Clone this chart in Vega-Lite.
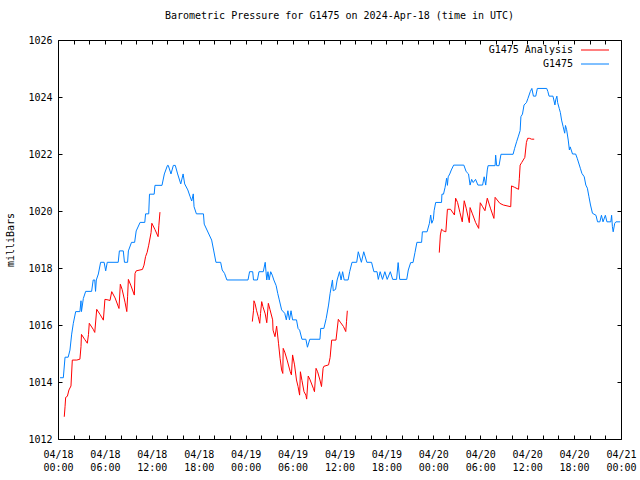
{
  "$schema": "https://vega.github.io/schema/vega-lite/v6.json",
  "width": 563,
  "height": 399,
  "autosize": "none",
  "padding": {"left": 58, "top": 40, "right": 19, "bottom": 41},
  "background": "white",
  "title": {
    "text": "Barometric Pressure for G1475 on 2024-Apr-18 (time in UTC)",
    "font": "DejaVu Sans Mono",
    "fontSize": 10,
    "fontWeight": "normal",
    "color": "black",
    "offset": 14,
    "anchor": "middle",
    "frame": "group"
  },
  "config": {
    "view": {"stroke": "black", "strokeWidth": 1},
    "axis": {
      "labelFont": "DejaVu Sans Mono",
      "labelFontSize": 10,
      "labelColor": "black",
      "titleFont": "DejaVu Sans Mono",
      "titleFontSize": 10,
      "titleFontWeight": "normal",
      "titleColor": "black",
      "tickColor": "black",
      "tickWidth": 1,
      "grid": false,
      "domain": false
    },
    "legend": {
      "labelFont": "DejaVu Sans Mono",
      "labelFontSize": 10,
      "labelColor": "black"
    }
  },
  "datasets": {
    "pressure": [
      {"series":"G1475","seg":0,"hour":0.26,"mbar":1014.15},
      {"series":"G1475","seg":0,"hour":0.68,"mbar":1014.15},
      {"series":"G1475","seg":0,"hour":0.9,"mbar":1014.87},
      {"series":"G1475","seg":0,"hour":1.3,"mbar":1014.87},
      {"series":"G1475","seg":0,"hour":1.53,"mbar":1015.12},
      {"series":"G1475","seg":0,"hour":1.75,"mbar":1015.68},
      {"series":"G1475","seg":0,"hour":1.96,"mbar":1016.06},
      {"series":"G1475","seg":0,"hour":2.26,"mbar":1016.47},
      {"series":"G1475","seg":0,"hour":2.8,"mbar":1016.47},
      {"series":"G1475","seg":0,"hour":2.94,"mbar":1016.85},
      {"series":"G1475","seg":0,"hour":3.0,"mbar":1016.47},
      {"series":"G1475","seg":0,"hour":3.24,"mbar":1016.93},
      {"series":"G1475","seg":0,"hour":3.54,"mbar":1017.18},
      {"series":"G1475","seg":0,"hour":4.3,"mbar":1017.18},
      {"series":"G1475","seg":0,"hour":4.5,"mbar":1017.58},
      {"series":"G1475","seg":0,"hour":4.7,"mbar":1017.58},
      {"series":"G1475","seg":0,"hour":4.8,"mbar":1017.18},
      {"series":"G1475","seg":0,"hour":4.9,"mbar":1017.58},
      {"series":"G1475","seg":0,"hour":5.16,"mbar":1017.79},
      {"series":"G1475","seg":0,"hour":5.45,"mbar":1018.2},
      {"series":"G1475","seg":0,"hour":5.9,"mbar":1018.2},
      {"series":"G1475","seg":0,"hour":6.1,"mbar":1017.9},
      {"series":"G1475","seg":0,"hour":6.3,"mbar":1018.2},
      {"series":"G1475","seg":0,"hour":7.7,"mbar":1018.2},
      {"series":"G1475","seg":0,"hour":7.85,"mbar":1018.6},
      {"series":"G1475","seg":0,"hour":8.35,"mbar":1018.6},
      {"series":"G1475","seg":0,"hour":8.5,"mbar":1018.2},
      {"series":"G1475","seg":0,"hour":8.9,"mbar":1018.2},
      {"series":"G1475","seg":0,"hour":9.0,"mbar":1018.6},
      {"series":"G1475","seg":0,"hour":9.4,"mbar":1018.9},
      {"series":"G1475","seg":0,"hour":9.8,"mbar":1018.9},
      {"series":"G1475","seg":0,"hour":10.0,"mbar":1019.3},
      {"series":"G1475","seg":0,"hour":10.5,"mbar":1019.6},
      {"series":"G1475","seg":0,"hour":11.1,"mbar":1019.6},
      {"series":"G1475","seg":0,"hour":11.2,"mbar":1019.9},
      {"series":"G1475","seg":0,"hour":11.6,"mbar":1019.9},
      {"series":"G1475","seg":0,"hour":11.7,"mbar":1020.59},
      {"series":"G1475","seg":0,"hour":12.3,"mbar":1020.59},
      {"series":"G1475","seg":0,"hour":12.4,"mbar":1020.9},
      {"series":"G1475","seg":0,"hour":13.3,"mbar":1020.9},
      {"series":"G1475","seg":0,"hour":13.6,"mbar":1021.3},
      {"series":"G1475","seg":0,"hour":14.0,"mbar":1021.6},
      {"series":"G1475","seg":0,"hour":14.1,"mbar":1021.6},
      {"series":"G1475","seg":0,"hour":14.45,"mbar":1021.3},
      {"series":"G1475","seg":0,"hour":14.75,"mbar":1021.6},
      {"series":"G1475","seg":0,"hour":15.0,"mbar":1021.6},
      {"series":"G1475","seg":0,"hour":15.3,"mbar":1021.3},
      {"series":"G1475","seg":0,"hour":15.7,"mbar":1020.95},
      {"series":"G1475","seg":0,"hour":16.0,"mbar":1021.3},
      {"series":"G1475","seg":0,"hour":16.2,"mbar":1020.95},
      {"series":"G1475","seg":0,"hour":16.6,"mbar":1020.74},
      {"series":"G1475","seg":0,"hour":16.9,"mbar":1020.5},
      {"series":"G1475","seg":0,"hour":17.1,"mbar":1020.35},
      {"series":"G1475","seg":0,"hour":17.3,"mbar":1020.6},
      {"series":"G1475","seg":0,"hour":17.4,"mbar":1020.15},
      {"series":"G1475","seg":0,"hour":17.7,"mbar":1019.9},
      {"series":"G1475","seg":0,"hour":18.6,"mbar":1019.9},
      {"series":"G1475","seg":0,"hour":18.7,"mbar":1019.54},
      {"series":"G1475","seg":0,"hour":19.65,"mbar":1018.98},
      {"series":"G1475","seg":0,"hour":19.9,"mbar":1018.63},
      {"series":"G1475","seg":0,"hour":20.2,"mbar":1018.2},
      {"series":"G1475","seg":0,"hour":20.8,"mbar":1018.2},
      {"series":"G1475","seg":0,"hour":21.0,"mbar":1017.93},
      {"series":"G1475","seg":0,"hour":21.3,"mbar":1017.81},
      {"series":"G1475","seg":0,"hour":21.6,"mbar":1017.58},
      {"series":"G1475","seg":0,"hour":24.3,"mbar":1017.58},
      {"series":"G1475","seg":0,"hour":24.5,"mbar":1017.87},
      {"series":"G1475","seg":0,"hour":24.9,"mbar":1017.87},
      {"series":"G1475","seg":0,"hour":25.0,"mbar":1017.58},
      {"series":"G1475","seg":0,"hour":25.5,"mbar":1017.58},
      {"series":"G1475","seg":0,"hour":25.7,"mbar":1017.87},
      {"series":"G1475","seg":0,"hour":26.25,"mbar":1017.87},
      {"series":"G1475","seg":0,"hour":26.5,"mbar":1018.2},
      {"series":"G1475","seg":0,"hour":26.6,"mbar":1017.87},
      {"series":"G1475","seg":0,"hour":26.7,"mbar":1017.58},
      {"series":"G1475","seg":0,"hour":26.85,"mbar":1017.87},
      {"series":"G1475","seg":0,"hour":27.0,"mbar":1017.58},
      {"series":"G1475","seg":0,"hour":27.2,"mbar":1017.87},
      {"series":"G1475","seg":0,"hour":27.4,"mbar":1017.75},
      {"series":"G1475","seg":0,"hour":27.6,"mbar":1017.58},
      {"series":"G1475","seg":0,"hour":27.9,"mbar":1017.38},
      {"series":"G1475","seg":0,"hour":28.1,"mbar":1017.11},
      {"series":"G1475","seg":0,"hour":28.3,"mbar":1016.88},
      {"series":"G1475","seg":0,"hour":28.6,"mbar":1016.53},
      {"series":"G1475","seg":0,"hour":29.0,"mbar":1016.41},
      {"series":"G1475","seg":0,"hour":29.2,"mbar":1016.18},
      {"series":"G1475","seg":0,"hour":29.4,"mbar":1016.5},
      {"series":"G1475","seg":0,"hour":29.6,"mbar":1016.18},
      {"series":"G1475","seg":0,"hour":29.8,"mbar":1016.5},
      {"series":"G1475","seg":0,"hour":30.0,"mbar":1016.18},
      {"series":"G1475","seg":0,"hour":30.5,"mbar":1016.18},
      {"series":"G1475","seg":0,"hour":30.7,"mbar":1015.88},
      {"series":"G1475","seg":0,"hour":30.9,"mbar":1015.82},
      {"series":"G1475","seg":0,"hour":31.2,"mbar":1015.5},
      {"series":"G1475","seg":0,"hour":31.7,"mbar":1015.5},
      {"series":"G1475","seg":0,"hour":31.9,"mbar":1015.22},
      {"series":"G1475","seg":0,"hour":32.2,"mbar":1015.5},
      {"series":"G1475","seg":0,"hour":33.5,"mbar":1015.5},
      {"series":"G1475","seg":0,"hour":33.6,"mbar":1015.88},
      {"series":"G1475","seg":0,"hour":34.0,"mbar":1015.88},
      {"series":"G1475","seg":0,"hour":34.3,"mbar":1016.23},
      {"series":"G1475","seg":0,"hour":34.6,"mbar":1016.7},
      {"series":"G1475","seg":0,"hour":34.8,"mbar":1017.11},
      {"series":"G1475","seg":0,"hour":35.1,"mbar":1017.58},
      {"series":"G1475","seg":0,"hour":35.2,"mbar":1017.2},
      {"series":"G1475","seg":0,"hour":35.5,"mbar":1017.25},
      {"series":"G1475","seg":0,"hour":35.7,"mbar":1017.58},
      {"series":"G1475","seg":0,"hour":36.0,"mbar":1017.87},
      {"series":"G1475","seg":0,"hour":36.2,"mbar":1017.58},
      {"series":"G1475","seg":0,"hour":36.4,"mbar":1017.87},
      {"series":"G1475","seg":0,"hour":36.6,"mbar":1017.58},
      {"series":"G1475","seg":0,"hour":37.1,"mbar":1017.58},
      {"series":"G1475","seg":0,"hour":37.3,"mbar":1017.87},
      {"series":"G1475","seg":0,"hour":37.6,"mbar":1018.2},
      {"series":"G1475","seg":0,"hour":38.2,"mbar":1018.2},
      {"series":"G1475","seg":0,"hour":38.4,"mbar":1018.57},
      {"series":"G1475","seg":0,"hour":38.8,"mbar":1018.2},
      {"series":"G1475","seg":0,"hour":39.1,"mbar":1018.57},
      {"series":"G1475","seg":0,"hour":39.5,"mbar":1018.2},
      {"series":"G1475","seg":0,"hour":40.1,"mbar":1018.2},
      {"series":"G1475","seg":0,"hour":40.4,"mbar":1017.87},
      {"series":"G1475","seg":0,"hour":40.8,"mbar":1017.87},
      {"series":"G1475","seg":0,"hour":40.96,"mbar":1017.6},
      {"series":"G1475","seg":0,"hour":41.2,"mbar":1017.87},
      {"series":"G1475","seg":0,"hour":41.5,"mbar":1017.6},
      {"series":"G1475","seg":0,"hour":41.8,"mbar":1017.87},
      {"series":"G1475","seg":0,"hour":42.1,"mbar":1017.6},
      {"series":"G1475","seg":0,"hour":42.5,"mbar":1017.87},
      {"series":"G1475","seg":0,"hour":42.8,"mbar":1017.6},
      {"series":"G1475","seg":0,"hour":43.3,"mbar":1017.6},
      {"series":"G1475","seg":0,"hour":43.5,"mbar":1018.19},
      {"series":"G1475","seg":0,"hour":43.7,"mbar":1017.6},
      {"series":"G1475","seg":0,"hour":44.6,"mbar":1017.6},
      {"series":"G1475","seg":0,"hour":44.8,"mbar":1017.93},
      {"series":"G1475","seg":0,"hour":45.1,"mbar":1018.19},
      {"series":"G1475","seg":0,"hour":45.4,"mbar":1018.19},
      {"series":"G1475","seg":0,"hour":45.65,"mbar":1018.54},
      {"series":"G1475","seg":0,"hour":45.9,"mbar":1018.9},
      {"series":"G1475","seg":0,"hour":46.5,"mbar":1018.9},
      {"series":"G1475","seg":0,"hour":46.6,"mbar":1019.27},
      {"series":"G1475","seg":0,"hour":47.2,"mbar":1019.27},
      {"series":"G1475","seg":0,"hour":47.5,"mbar":1019.57},
      {"series":"G1475","seg":0,"hour":47.66,"mbar":1019.86},
      {"series":"G1475","seg":0,"hour":47.8,"mbar":1019.57},
      {"series":"G1475","seg":0,"hour":48.0,"mbar":1019.7},
      {"series":"G1475","seg":0,"hour":48.1,"mbar":1020.01},
      {"series":"G1475","seg":0,"hour":48.3,"mbar":1020.3},
      {"series":"G1475","seg":0,"hour":49.05,"mbar":1020.3},
      {"series":"G1475","seg":0,"hour":49.1,"mbar":1020.59},
      {"series":"G1475","seg":0,"hour":49.3,"mbar":1020.59},
      {"series":"G1475","seg":0,"hour":49.5,"mbar":1020.83},
      {"series":"G1475","seg":0,"hour":49.7,"mbar":1021.15},
      {"series":"G1475","seg":0,"hour":49.8,"mbar":1020.9},
      {"series":"G1475","seg":0,"hour":49.9,"mbar":1021.2},
      {"series":"G1475","seg":0,"hour":50.1,"mbar":1021.3},
      {"series":"G1475","seg":0,"hour":50.3,"mbar":1021.44},
      {"series":"G1475","seg":0,"hour":50.6,"mbar":1021.61},
      {"series":"G1475","seg":0,"hour":51.9,"mbar":1021.61},
      {"series":"G1475","seg":0,"hour":52.2,"mbar":1021.38},
      {"series":"G1475","seg":0,"hour":52.5,"mbar":1021.3},
      {"series":"G1475","seg":0,"hour":52.7,"mbar":1020.91},
      {"series":"G1475","seg":0,"hour":52.9,"mbar":1021.11},
      {"series":"G1475","seg":0,"hour":53.1,"mbar":1021.0},
      {"series":"G1475","seg":0,"hour":53.4,"mbar":1021.11},
      {"series":"G1475","seg":0,"hour":53.7,"mbar":1020.91},
      {"series":"G1475","seg":0,"hour":54.3,"mbar":1020.91},
      {"series":"G1475","seg":0,"hour":54.5,"mbar":1021.2},
      {"series":"G1475","seg":0,"hour":54.7,"mbar":1020.91},
      {"series":"G1475","seg":0,"hour":54.9,"mbar":1021.44},
      {"series":"G1475","seg":0,"hour":55.0,"mbar":1021.59},
      {"series":"G1475","seg":0,"hour":55.9,"mbar":1021.59},
      {"series":"G1475","seg":0,"hour":55.97,"mbar":1021.96},
      {"series":"G1475","seg":0,"hour":56.1,"mbar":1021.59},
      {"series":"G1475","seg":0,"hour":56.4,"mbar":1021.59},
      {"series":"G1475","seg":0,"hour":56.65,"mbar":1021.99},
      {"series":"G1475","seg":0,"hour":58.2,"mbar":1021.99},
      {"series":"G1475","seg":0,"hour":58.4,"mbar":1022.2},
      {"series":"G1475","seg":0,"hour":58.65,"mbar":1022.43},
      {"series":"G1475","seg":0,"hour":58.85,"mbar":1022.6},
      {"series":"G1475","seg":0,"hour":59.1,"mbar":1022.82},
      {"series":"G1475","seg":0,"hour":59.2,"mbar":1023.31},
      {"series":"G1475","seg":0,"hour":59.4,"mbar":1023.4},
      {"series":"G1475","seg":0,"hour":59.6,"mbar":1023.72},
      {"series":"G1475","seg":0,"hour":59.9,"mbar":1023.8},
      {"series":"G1475","seg":0,"hour":60.1,"mbar":1023.95},
      {"series":"G1475","seg":0,"hour":60.4,"mbar":1024.19},
      {"series":"G1475","seg":0,"hour":60.6,"mbar":1024.3},
      {"series":"G1475","seg":0,"hour":60.8,"mbar":1024.03},
      {"series":"G1475","seg":0,"hour":61.1,"mbar":1024.03},
      {"series":"G1475","seg":0,"hour":61.3,"mbar":1024.3},
      {"series":"G1475","seg":0,"hour":62.5,"mbar":1024.3},
      {"series":"G1475","seg":0,"hour":62.65,"mbar":1024.19},
      {"series":"G1475","seg":0,"hour":62.8,"mbar":1024.03},
      {"series":"G1475","seg":0,"hour":63.3,"mbar":1024.03},
      {"series":"G1475","seg":0,"hour":63.55,"mbar":1023.72},
      {"series":"G1475","seg":0,"hour":63.65,"mbar":1023.9},
      {"series":"G1475","seg":0,"hour":63.8,"mbar":1024.03},
      {"series":"G1475","seg":0,"hour":63.9,"mbar":1023.8},
      {"series":"G1475","seg":0,"hour":64.1,"mbar":1023.6},
      {"series":"G1475","seg":0,"hour":64.25,"mbar":1023.45},
      {"series":"G1475","seg":0,"hour":64.4,"mbar":1023.19},
      {"series":"G1475","seg":0,"hour":64.6,"mbar":1022.96},
      {"series":"G1475","seg":0,"hour":64.8,"mbar":1022.73},
      {"series":"G1475","seg":0,"hour":64.9,"mbar":1023.0},
      {"series":"G1475","seg":0,"hour":65.05,"mbar":1022.85},
      {"series":"G1475","seg":0,"hour":65.25,"mbar":1022.49},
      {"series":"G1475","seg":0,"hour":65.4,"mbar":1022.14},
      {"series":"G1475","seg":0,"hour":65.5,"mbar":1022.25},
      {"series":"G1475","seg":0,"hour":65.8,"mbar":1022.0},
      {"series":"G1475","seg":0,"hour":66.2,"mbar":1022.0},
      {"series":"G1475","seg":0,"hour":66.4,"mbar":1021.85},
      {"series":"G1475","seg":0,"hour":66.8,"mbar":1021.5},
      {"series":"G1475","seg":0,"hour":67.0,"mbar":1021.32},
      {"series":"G1475","seg":0,"hour":67.3,"mbar":1021.2},
      {"series":"G1475","seg":0,"hour":67.5,"mbar":1020.91},
      {"series":"G1475","seg":0,"hour":67.7,"mbar":1020.8},
      {"series":"G1475","seg":0,"hour":67.9,"mbar":1020.5},
      {"series":"G1475","seg":0,"hour":68.1,"mbar":1020.21},
      {"series":"G1475","seg":0,"hour":68.35,"mbar":1019.92},
      {"series":"G1475","seg":0,"hour":68.8,"mbar":1019.85},
      {"series":"G1475","seg":0,"hour":69.0,"mbar":1019.62},
      {"series":"G1475","seg":0,"hour":69.3,"mbar":1019.62},
      {"series":"G1475","seg":0,"hour":69.5,"mbar":1019.85},
      {"series":"G1475","seg":0,"hour":69.7,"mbar":1019.62},
      {"series":"G1475","seg":0,"hour":70.0,"mbar":1019.85},
      {"series":"G1475","seg":0,"hour":70.2,"mbar":1019.62},
      {"series":"G1475","seg":0,"hour":70.7,"mbar":1019.62},
      {"series":"G1475","seg":0,"hour":70.8,"mbar":1019.85},
      {"series":"G1475","seg":0,"hour":70.9,"mbar":1019.45},
      {"series":"G1475","seg":0,"hour":71.0,"mbar":1019.27},
      {"series":"G1475","seg":0,"hour":71.2,"mbar":1019.57},
      {"series":"G1475","seg":0,"hour":71.35,"mbar":1019.62},
      {"series":"G1475","seg":0,"hour":71.9,"mbar":1019.62},

      {"series":"G1475 Analysis","seg":1,"hour":0.8,"mbar":1012.78},
      {"series":"G1475 Analysis","seg":1,"hour":0.9,"mbar":1013.13},
      {"series":"G1475 Analysis","seg":1,"hour":0.98,"mbar":1013.46},
      {"series":"G1475 Analysis","seg":1,"hour":1.2,"mbar":1013.5},
      {"series":"G1475 Analysis","seg":1,"hour":1.4,"mbar":1013.72},
      {"series":"G1475 Analysis","seg":1,"hour":1.66,"mbar":1013.86},
      {"series":"G1475 Analysis","seg":1,"hour":1.83,"mbar":1014.77},
      {"series":"G1475 Analysis","seg":1,"hour":2.4,"mbar":1014.77},
      {"series":"G1475 Analysis","seg":1,"hour":2.8,"mbar":1014.8},
      {"series":"G1475 Analysis","seg":1,"hour":2.94,"mbar":1015.24},
      {"series":"G1475 Analysis","seg":1,"hour":3.0,"mbar":1015.67},
      {"series":"G1475 Analysis","seg":1,"hour":3.4,"mbar":1015.5},
      {"series":"G1475 Analysis","seg":1,"hour":3.75,"mbar":1015.36},
      {"series":"G1475 Analysis","seg":1,"hour":3.9,"mbar":1015.67},
      {"series":"G1475 Analysis","seg":1,"hour":4.0,"mbar":1016.06},
      {"series":"G1475 Analysis","seg":1,"hour":4.5,"mbar":1015.85},
      {"series":"G1475 Analysis","seg":1,"hour":4.7,"mbar":1015.74},
      {"series":"G1475 Analysis","seg":1,"hour":4.95,"mbar":1016.55},
      {"series":"G1475 Analysis","seg":1,"hour":5.4,"mbar":1016.36},
      {"series":"G1475 Analysis","seg":1,"hour":5.8,"mbar":1016.17},
      {"series":"G1475 Analysis","seg":1,"hour":5.9,"mbar":1016.53},
      {"series":"G1475 Analysis","seg":1,"hour":6.0,"mbar":1016.9},
      {"series":"G1475 Analysis","seg":1,"hour":6.4,"mbar":1016.88},
      {"series":"G1475 Analysis","seg":1,"hour":6.65,"mbar":1016.86},
      {"series":"G1475 Analysis","seg":1,"hour":6.87,"mbar":1017.17},
      {"series":"G1475 Analysis","seg":1,"hour":7.3,"mbar":1016.95},
      {"series":"G1475 Analysis","seg":1,"hour":7.8,"mbar":1016.58},
      {"series":"G1475 Analysis","seg":1,"hour":7.97,"mbar":1017.43},
      {"series":"G1475 Analysis","seg":1,"hour":8.2,"mbar":1017.25},
      {"series":"G1475 Analysis","seg":1,"hour":8.57,"mbar":1016.8},
      {"series":"G1475 Analysis","seg":1,"hour":8.8,"mbar":1016.47},
      {"series":"G1475 Analysis","seg":1,"hour":8.9,"mbar":1016.99},
      {"series":"G1475 Analysis","seg":1,"hour":9.0,"mbar":1017.6},
      {"series":"G1475 Analysis","seg":1,"hour":9.3,"mbar":1017.4},
      {"series":"G1475 Analysis","seg":1,"hour":9.76,"mbar":1017.05},
      {"series":"G1475 Analysis","seg":1,"hour":9.85,"mbar":1017.81},
      {"series":"G1475 Analysis","seg":1,"hour":10.0,"mbar":1017.9},
      {"series":"G1475 Analysis","seg":1,"hour":10.8,"mbar":1017.95},
      {"series":"G1475 Analysis","seg":1,"hour":11.0,"mbar":1018.1},
      {"series":"G1475 Analysis","seg":1,"hour":11.2,"mbar":1018.4},
      {"series":"G1475 Analysis","seg":1,"hour":11.4,"mbar":1018.55},
      {"series":"G1475 Analysis","seg":1,"hour":11.6,"mbar":1018.8},
      {"series":"G1475 Analysis","seg":1,"hour":11.9,"mbar":1019.24},
      {"series":"G1475 Analysis","seg":1,"hour":12.0,"mbar":1019.57},
      {"series":"G1475 Analysis","seg":1,"hour":12.4,"mbar":1019.35},
      {"series":"G1475 Analysis","seg":1,"hour":12.8,"mbar":1019.1},
      {"series":"G1475 Analysis","seg":1,"hour":12.9,"mbar":1019.5},
      {"series":"G1475 Analysis","seg":1,"hour":13.04,"mbar":1019.96},

      {"series":"G1475 Analysis","seg":2,"hour":24.85,"mbar":1016.12},
      {"series":"G1475 Analysis","seg":2,"hour":25.0,"mbar":1016.5},
      {"series":"G1475 Analysis","seg":2,"hour":25.06,"mbar":1016.85},
      {"series":"G1475 Analysis","seg":2,"hour":25.2,"mbar":1016.75},
      {"series":"G1475 Analysis","seg":2,"hour":25.4,"mbar":1016.5},
      {"series":"G1475 Analysis","seg":2,"hour":25.6,"mbar":1016.3},
      {"series":"G1475 Analysis","seg":2,"hour":25.8,"mbar":1016.06},
      {"series":"G1475 Analysis","seg":2,"hour":25.9,"mbar":1016.4},
      {"series":"G1475 Analysis","seg":2,"hour":26.05,"mbar":1016.82},
      {"series":"G1475 Analysis","seg":2,"hour":26.2,"mbar":1016.65},
      {"series":"G1475 Analysis","seg":2,"hour":26.5,"mbar":1016.39},
      {"series":"G1475 Analysis","seg":2,"hour":26.7,"mbar":1016.08},
      {"series":"G1475 Analysis","seg":2,"hour":26.9,"mbar":1016.76},
      {"series":"G1475 Analysis","seg":2,"hour":27.1,"mbar":1016.55},
      {"series":"G1475 Analysis","seg":2,"hour":27.45,"mbar":1016.18},
      {"series":"G1475 Analysis","seg":2,"hour":27.5,"mbar":1015.82},
      {"series":"G1475 Analysis","seg":2,"hour":27.75,"mbar":1015.59},
      {"series":"G1475 Analysis","seg":2,"hour":27.96,"mbar":1015.96},
      {"series":"G1475 Analysis","seg":2,"hour":28.2,"mbar":1015.36},
      {"series":"G1475 Analysis","seg":2,"hour":28.4,"mbar":1014.83},
      {"series":"G1475 Analysis","seg":2,"hour":28.6,"mbar":1014.42},
      {"series":"G1475 Analysis","seg":2,"hour":28.75,"mbar":1014.3},
      {"series":"G1475 Analysis","seg":2,"hour":28.8,"mbar":1015.18},
      {"series":"G1475 Analysis","seg":2,"hour":29.0,"mbar":1015.05},
      {"series":"G1475 Analysis","seg":2,"hour":29.3,"mbar":1014.77},
      {"series":"G1475 Analysis","seg":2,"hour":29.7,"mbar":1014.36},
      {"series":"G1475 Analysis","seg":2,"hour":29.85,"mbar":1014.25},
      {"series":"G1475 Analysis","seg":2,"hour":30.0,"mbar":1014.95},
      {"series":"G1475 Analysis","seg":2,"hour":30.25,"mbar":1014.6},
      {"series":"G1475 Analysis","seg":2,"hour":30.5,"mbar":1014.07},
      {"series":"G1475 Analysis","seg":2,"hour":30.7,"mbar":1013.84},
      {"series":"G1475 Analysis","seg":2,"hour":30.9,"mbar":1013.54},
      {"series":"G1475 Analysis","seg":2,"hour":31.0,"mbar":1014.36},
      {"series":"G1475 Analysis","seg":2,"hour":31.2,"mbar":1014.05},
      {"series":"G1475 Analysis","seg":2,"hour":31.46,"mbar":1013.66},
      {"series":"G1475 Analysis","seg":2,"hour":31.7,"mbar":1013.54},
      {"series":"G1475 Analysis","seg":2,"hour":31.8,"mbar":1013.4},
      {"series":"G1475 Analysis","seg":2,"hour":32.0,"mbar":1014.21},
      {"series":"G1475 Analysis","seg":2,"hour":32.2,"mbar":1014.1},
      {"series":"G1475 Analysis","seg":2,"hour":32.65,"mbar":1013.78},
      {"series":"G1475 Analysis","seg":2,"hour":32.8,"mbar":1013.66},
      {"series":"G1475 Analysis","seg":2,"hour":33.0,"mbar":1014.48},
      {"series":"G1475 Analysis","seg":2,"hour":33.2,"mbar":1014.36},
      {"series":"G1475 Analysis","seg":2,"hour":33.5,"mbar":1014.07},
      {"series":"G1475 Analysis","seg":2,"hour":33.7,"mbar":1013.84},
      {"series":"G1475 Analysis","seg":2,"hour":33.9,"mbar":1014.48},
      {"series":"G1475 Analysis","seg":2,"hour":34.0,"mbar":1014.55},
      {"series":"G1475 Analysis","seg":2,"hour":34.6,"mbar":1014.6},
      {"series":"G1475 Analysis","seg":2,"hour":34.8,"mbar":1014.86},
      {"series":"G1475 Analysis","seg":2,"hour":35.0,"mbar":1015.47},
      {"series":"G1475 Analysis","seg":2,"hour":35.55,"mbar":1015.47},
      {"series":"G1475 Analysis","seg":2,"hour":35.85,"mbar":1016.2},
      {"series":"G1475 Analysis","seg":2,"hour":36.1,"mbar":1016.1},
      {"series":"G1475 Analysis","seg":2,"hour":36.5,"mbar":1015.95},
      {"series":"G1475 Analysis","seg":2,"hour":36.8,"mbar":1015.77},
      {"series":"G1475 Analysis","seg":2,"hour":36.9,"mbar":1016.13},
      {"series":"G1475 Analysis","seg":2,"hour":37.0,"mbar":1016.5},

      {"series":"G1475 Analysis","seg":3,"hour":48.76,"mbar":1018.54},
      {"series":"G1475 Analysis","seg":3,"hour":48.9,"mbar":1019.16},
      {"series":"G1475 Analysis","seg":3,"hour":49.05,"mbar":1019.36},
      {"series":"G1475 Analysis","seg":3,"hour":49.3,"mbar":1019.3},
      {"series":"G1475 Analysis","seg":3,"hour":49.6,"mbar":1019.27},
      {"series":"G1475 Analysis","seg":3,"hour":49.8,"mbar":1020.06},
      {"series":"G1475 Analysis","seg":3,"hour":50.2,"mbar":1020.06},
      {"series":"G1475 Analysis","seg":3,"hour":50.7,"mbar":1019.86},
      {"series":"G1475 Analysis","seg":3,"hour":50.85,"mbar":1020.45},
      {"series":"G1475 Analysis","seg":3,"hour":51.1,"mbar":1020.3},
      {"series":"G1475 Analysis","seg":3,"hour":51.4,"mbar":1019.95},
      {"series":"G1475 Analysis","seg":3,"hour":51.7,"mbar":1019.62},
      {"series":"G1475 Analysis","seg":3,"hour":51.95,"mbar":1020.36},
      {"series":"G1475 Analysis","seg":3,"hour":52.2,"mbar":1020.1},
      {"series":"G1475 Analysis","seg":3,"hour":52.6,"mbar":1019.59},
      {"series":"G1475 Analysis","seg":3,"hour":52.7,"mbar":1020.12},
      {"series":"G1475 Analysis","seg":3,"hour":53.0,"mbar":1019.9},
      {"series":"G1475 Analysis","seg":3,"hour":53.4,"mbar":1019.6},
      {"series":"G1475 Analysis","seg":3,"hour":53.8,"mbar":1019.39},
      {"series":"G1475 Analysis","seg":3,"hour":53.9,"mbar":1019.86},
      {"series":"G1475 Analysis","seg":3,"hour":54.0,"mbar":1020.29},
      {"series":"G1475 Analysis","seg":3,"hour":54.3,"mbar":1020.15},
      {"series":"G1475 Analysis","seg":3,"hour":54.6,"mbar":1020.01},
      {"series":"G1475 Analysis","seg":3,"hour":54.9,"mbar":1020.45},
      {"series":"G1475 Analysis","seg":3,"hour":55.3,"mbar":1020.1},
      {"series":"G1475 Analysis","seg":3,"hour":55.75,"mbar":1019.74},
      {"series":"G1475 Analysis","seg":3,"hour":55.9,"mbar":1020.48},
      {"series":"G1475 Analysis","seg":3,"hour":56.5,"mbar":1020.27},
      {"series":"G1475 Analysis","seg":3,"hour":56.95,"mbar":1020.21},
      {"series":"G1475 Analysis","seg":3,"hour":57.9,"mbar":1020.15},
      {"series":"G1475 Analysis","seg":3,"hour":58.0,"mbar":1020.88},
      {"series":"G1475 Analysis","seg":3,"hour":58.4,"mbar":1020.83},
      {"series":"G1475 Analysis","seg":3,"hour":58.9,"mbar":1020.76},
      {"series":"G1475 Analysis","seg":3,"hour":59.0,"mbar":1021.15},
      {"series":"G1475 Analysis","seg":3,"hour":59.1,"mbar":1021.61},
      {"series":"G1475 Analysis","seg":3,"hour":59.3,"mbar":1021.7},
      {"series":"G1475 Analysis","seg":3,"hour":59.5,"mbar":1021.79},
      {"series":"G1475 Analysis","seg":3,"hour":59.7,"mbar":1021.88},
      {"series":"G1475 Analysis","seg":3,"hour":59.9,"mbar":1022.4},
      {"series":"G1475 Analysis","seg":3,"hour":60.06,"mbar":1022.55},
      {"series":"G1475 Analysis","seg":3,"hour":60.3,"mbar":1022.55},
      {"series":"G1475 Analysis","seg":3,"hour":60.57,"mbar":1022.52},
      {"series":"G1475 Analysis","seg":3,"hour":60.9,"mbar":1022.52}
    ]
  },
  "data": {"name": "pressure"},
  "layer": [
    {
      "transform": [{"filter": "datum.series == 'G1475 Analysis'"}],
      "mark": {"type": "line", "strokeWidth": 1, "interpolate": "linear"},
      "encoding": {
        "x": {
          "field": "hour", "type": "quantitative",
          "scale": {"domain": [0, 72], "nice": false, "zero": false},
          "axis": {
            "orient": "bottom",
            "title": null,
            "values": [0,2,4,6,8,10,12,14,16,18,20,22,24,26,28,30,32,34,36,38,40,42,44,46,48,50,52,54,56,58,60,62,64,66,68,70,72],
            "tickSize": -4,
            "labelPadding": 14,
            "labelBaseline": "top",
            "labelAlign": "center",
            "labelLineHeight": 13,
            "labelOverlap": false,
            "labelFlush": false,
            "labelBound": false,
            "labelExpr": "datum.value % 6 == 0 ? ['04/' + (18 + floor(datum.value / 24)), (datum.value % 24 < 10 ? '0' : '') + (datum.value % 24) + ':00'] : ''"
          }
        },
        "y": {
          "field": "mbar", "type": "quantitative",
          "scale": {"domain": [1012, 1026], "nice": false, "zero": false},
          "axis": {
            "orient": "left",
            "title": "milliBars",
            "values": [1012,1014,1016,1018,1020,1022,1024,1026],
            "tickSize": -4,
            "labelPadding": 10,
            "labelOverlap": false,
            "labelFlush": false,
            "format": "d",
            "titleX": -48,
            "titleY": 199.5,
            "titleAngle": -90,
            "titleAlign": "center",
            "titleBaseline": "middle"
          }
        },
        "color": {
          "field": "series", "type": "nominal",
          "scale": {"domain": ["G1475 Analysis", "G1475"], "range": ["#ff0000", "#0080ff"]},
          "legend": {
            "title": null,
            "orient": "none",
            "legendX": 532,
            "legendY": 5,
            "padding": 0,
            "symbolType": "M-7,0L7,0",
            "symbolSize": 16,
            "symbolStrokeWidth": 1,
            "labelAlign": "right",
            "labelOffset": -27,
            "rowPadding": 4
          }
        },
        "detail": {"field": "seg", "type": "nominal"}
      }
    },
    {
      "transform": [{"filter": "datum.series == 'G1475'"}],
      "mark": {"type": "line", "strokeWidth": 1, "interpolate": "linear"},
      "encoding": {
        "x": {
          "field": "hour", "type": "quantitative",
          "axis": {
            "orient": "top",
            "title": null,
            "labels": false,
            "values": [0,2,4,6,8,10,12,14,16,18,20,22,24,26,28,30,32,34,36,38,40,42,44,46,48,50,52,54,56,58,60,62,64,66,68,70,72],
            "tickSize": -4
          }
        },
        "y": {
          "field": "mbar", "type": "quantitative",
          "axis": {
            "orient": "right",
            "title": null,
            "labels": false,
            "values": [1012,1014,1016,1018,1020,1022,1024,1026],
            "tickSize": -4
          }
        },
        "color": {"field": "series", "type": "nominal"},
        "detail": {"field": "seg", "type": "nominal"}
      }
    }
  ],
  "resolve": {"axis": {"x": "independent", "y": "independent"}}
}
